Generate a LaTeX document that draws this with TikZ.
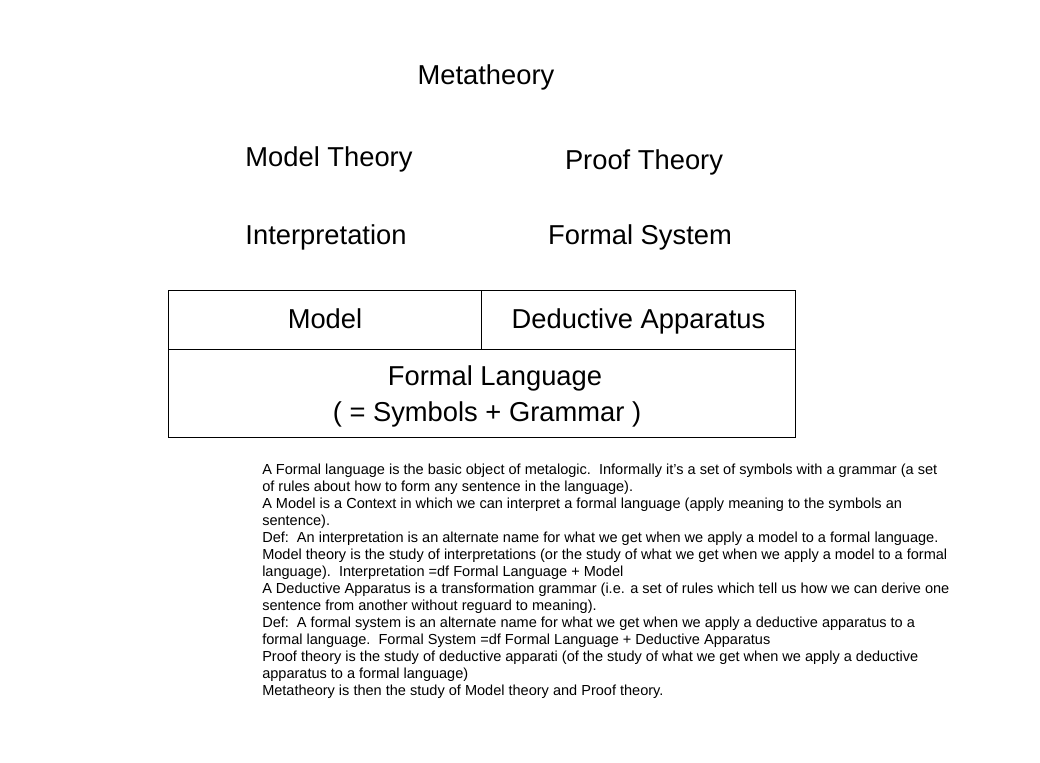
\documentclass[tikz,border=0pt]{standalone}
\usepackage{fontspec}
\setmainfont{Liberation Sans}
\usetikzlibrary{positioning}
\tikzset{
    heading/.style={font=\fontsize{20.5}{27}\selectfont, inner sep=0pt},
    cell/.style={draw, line width=0.75pt, heading, align=center},
    notes/.style={font=\fontsize{10.9}{12.75}\selectfont, align=left, inner sep=0pt, anchor=north west}
}
\begin{document}
\begin{tikzpicture}[x=0.75pt, y=-0.75pt]
    \useasboundingbox[fill=white] (0,0) rectangle (1040,763);
    % Titel oben, darunter die beiden Theorien
    \node[heading] (meta) at (486,77) {Metatheory};
    \node[heading] (modth) at (329,159) {Model Theory};
    \node[heading] (prfth) at (644,162) {Proof Theory};
    \node[heading] (interp) at (326,237) {Interpretation};
    \node[heading] (fsys) at (640,237) {Formal System};
    % Tabelle: Model | Deductive Apparatus, darunter Formal Language
    \node[cell, text height=16pt, text depth=3.5pt, minimum width=234.75pt, minimum height=44.25pt, anchor=north west] (model) at (168,290) {Model};
    \node[cell, text height=16pt, text depth=3.5pt, minimum width=235.5pt, minimum height=44.25pt, anchor=north west] (deduct) at (481,290) {Deductive Apparatus};
    \node[cell, minimum width=470.25pt, minimum height=66pt, anchor=north west] (lang) at (168,349)
        {\hspace*{19.5pt}\rule{0pt}{19.5pt}Formal Language\\\hspace*{7.5pt}( = Symbols + Grammar )};
    % Erklaerungstext
    \node[notes] (text) at (262,464) {%
        A Formal language is the basic object of metalogic.\ \ Informally it's a set of symbols with a grammar (a set\\
        of rules about how to form any sentence in the language).\\
        A Model is a Context in which we can interpret a formal language (apply meaning to the symbols an\\
        sentence).\\
        Def:\ \ An interpretation is an alternate name for what we get when we apply a model to a formal language.\\
        Model theory is the study of interpretations (or the study of what we get when we apply a model to a formal\\
        language).\ \ Interpretation =df Formal Language + Model\\
        A Deductive Apparatus is a transformation grammar (i.e. a set of rules which tell us how we can derive one\\
        sentence from another without reguard to meaning).\\
        Def:\ \ A formal system is an alternate name for what we get when we apply a deductive apparatus to a\\
        formal language.\ \ Formal System =df Formal Language + Deductive Apparatus\\
        Proof theory is the study of deductive apparati (of the study of what we get when we apply a deductive\\
        apparatus to a formal language)\\
        Metatheory is then the study of Model theory and Proof theory.};
\end{tikzpicture}
\end{document}
